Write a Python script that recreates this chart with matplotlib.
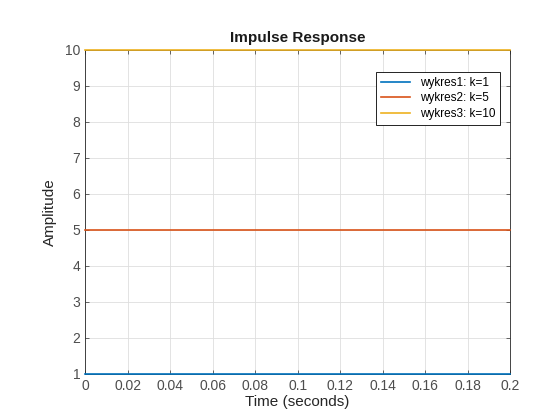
import matplotlib
matplotlib.use("Agg")
import matplotlib.pyplot as plt

plt.rcParams['font.family'] = ['Liberation Sans', 'DejaVu Sans']

t = [0.0, 0.2]
gains = [1, 5, 10]
labels = ['wykres1: k=1', 'wykres2: k=5', 'wykres3: k=10']
colors = ['#0072BD', '#D95319', '#EDB120']
xticks = [0, 0.02, 0.04, 0.06, 0.08, 0.1, 0.12, 0.14, 0.16, 0.18, 0.2]
xticklabels = ['0', '0.02', '0.04', '0.06', '0.08', '0.1', '0.12', '0.14', '0.16', '0.18', '0.2']
yticks = list(range(1, 11))

fig = plt.figure(figsize=(5.6, 4.2), dpi=100)
ax = fig.add_axes([0.152, 0.110, 0.759, 0.771])
for k, lab, c in zip(gains, labels, colors):
    ax.plot(t, [k, k], color=c, lw=1.2, label=lab, clip_on=False, zorder=5)
ax.set_xlim(0, 0.2)
ax.set_ylim(1, 10)
ax.set_xticks(xticks)
ax.set_xticklabels(xticklabels)
ax.set_yticks(yticks)
ax.grid(True, color='#dedede', lw=0.6)
ax.set_axisbelow(True)
for s in ax.spines.values():
    s.set_color('#262626'); s.set_linewidth(0.6); s.set_zorder(2)
ax.tick_params(colors='#4d4d4d', labelsize=10, direction='in', length=3, width=0.6, top=True, right=True)
ax.set_xlabel('Time (seconds)', fontsize=11, color='#262626', labelpad=2)
ax.set_ylabel('Amplitude', fontsize=11, color='#262626', labelpad=6)
ax.set_title('Impulse Response', fontsize=11, fontweight='bold', color='#1a1a1a', pad=6)
leg = ax.legend(loc='upper right', bbox_to_anchor=(0.99, 0.95), fontsize=8.5, frameon=True, fancybox=False,
                edgecolor='black', framealpha=1, handlelength=2.5, borderpad=0.4, labelspacing=0.3)
leg.get_frame().set_linewidth(0.6)
leg.set_zorder(10)
fig.savefig('out.png', dpi=100)
